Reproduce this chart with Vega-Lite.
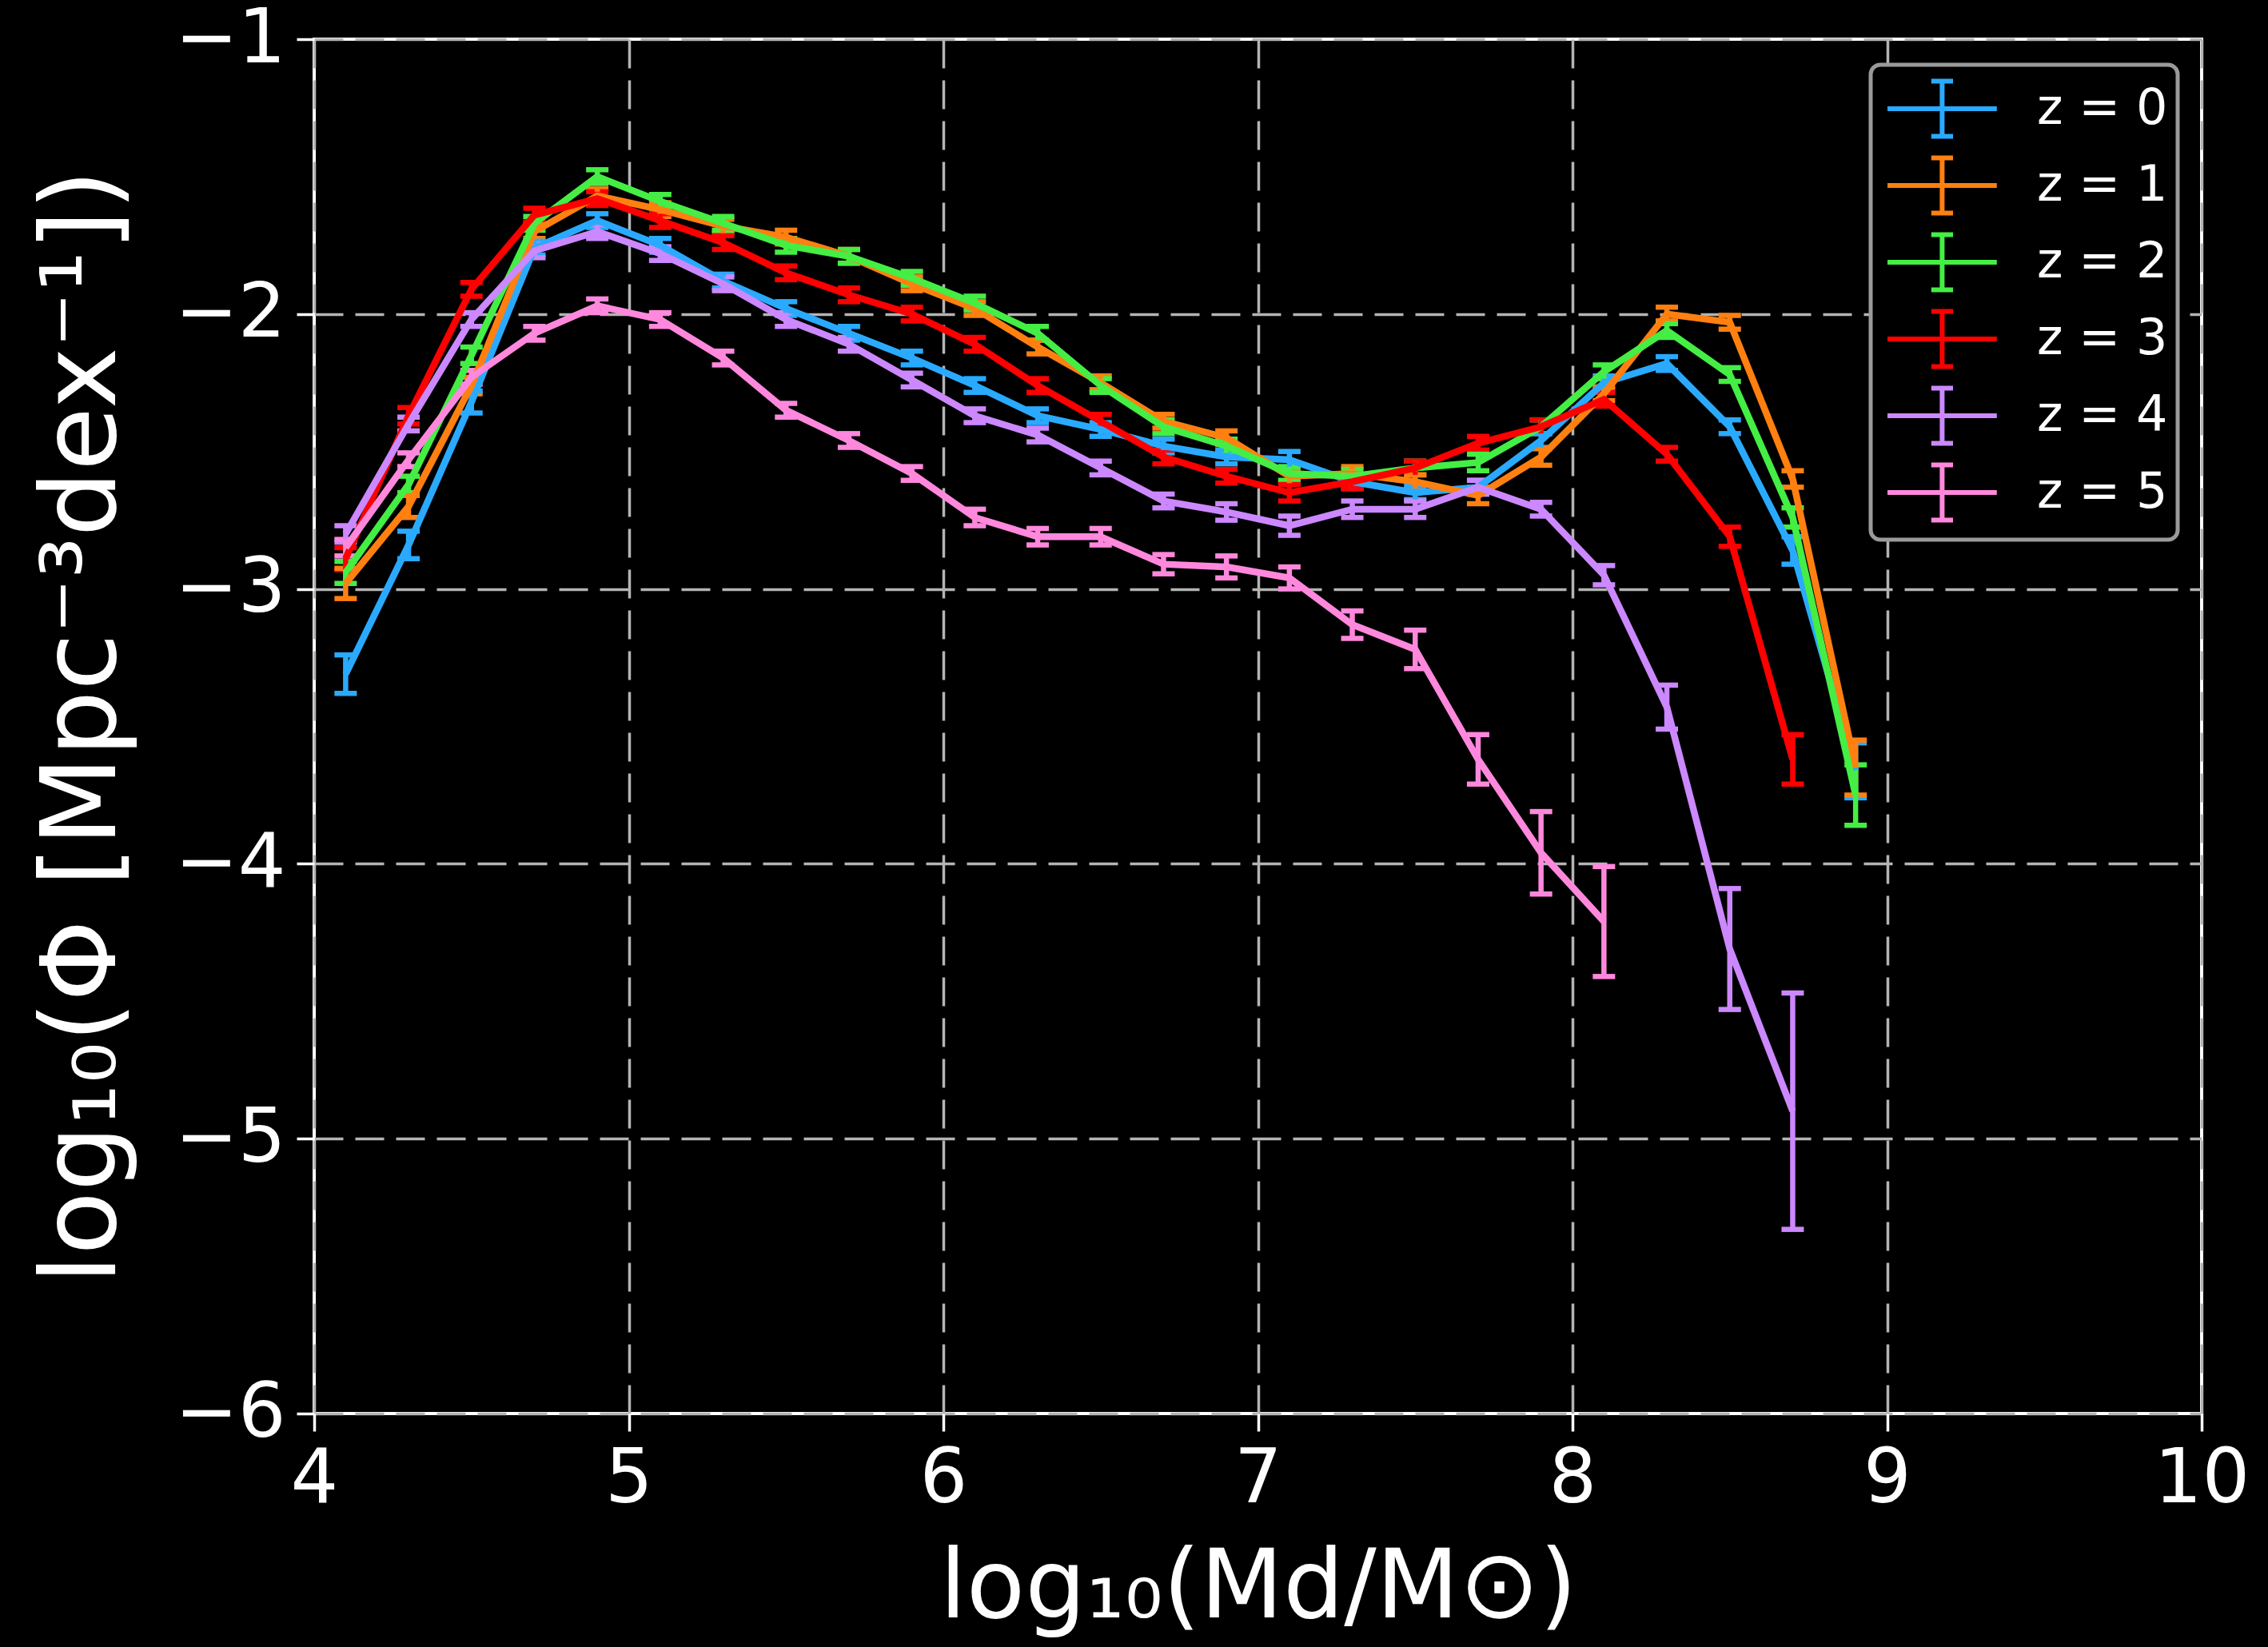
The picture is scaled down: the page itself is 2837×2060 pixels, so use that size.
{
  "$schema": "https://vega.github.io/schema/vega-lite/v6.json",
  "width": 2361,
  "height": 1719,
  "autosize": {"type": "none"},
  "padding": {"left": 393, "top": 49, "right": 83, "bottom": 292},
  "background": "black",
  "config": {
    "font": "DejaVu Sans",
    "view": {"stroke": "white", "strokeWidth": 4, "fill": "black"},
    "axis": {
      "labelFont": "DejaVu Sans",
      "titleFont": "DejaVu Sans",
      "labelColor": "white",
      "titleColor": "white",
      "labelFontSize": 94,
      "titleFontWeight": "normal",
      "tickColor": "white",
      "tickSize": 22,
      "tickWidth": 3.5,
      "domain": false,
      "grid": true,
      "gridColor": "#b4b4b4",
      "gridDash": [36, 15],
      "gridWidth": 3.5,
      "labelFlush": false,
      "labelOverlap": false
    },
    "legend": {
      "orient": "none",
      "legendX": 1947,
      "legendY": 32,
      "strokeColor": "#9a9a9a",
      "fillColor": "black",
      "cornerRadius": 12,
      "strokeWidth": 5,
      "padding": 12,
      "symbolType": "M-0.85,0H2.57M0.86,-0.86V0.86M0.52,-0.86H1.2M0.52,0.86H1.2",
      "symbolSize": 6400,
      "symbolStrokeWidth": 6,
      "symbolOpacity": 1,
      "symbolFillColor": "transparent",
      "labelFontSize": 62,
      "labelFont": "DejaVu Sans",
      "labelColor": "white",
      "labelOffset": 110,
      "rowPadding": 2,
      "labelLimit": 400
    }
  },
  "data": {
    "values": [
      {"z": "z = 0", "x": 4.1, "y": -3.31, "e": 0.07},
      {"z": "z = 0", "x": 4.3, "y": -2.84, "e": 0.05},
      {"z": "z = 0", "x": 4.5, "y": -2.32, "e": 0.04},
      {"z": "z = 0", "x": 4.7, "y": -1.76, "e": 0.025},
      {"z": "z = 0", "x": 4.9, "y": -1.66, "e": 0.025},
      {"z": "z = 0", "x": 5.1, "y": -1.75, "e": 0.025},
      {"z": "z = 0", "x": 5.3, "y": -1.88, "e": 0.025},
      {"z": "z = 0", "x": 5.5, "y": -1.98, "e": 0.025},
      {"z": "z = 0", "x": 5.7, "y": -2.07, "e": 0.025},
      {"z": "z = 0", "x": 5.9, "y": -2.16, "e": 0.025},
      {"z": "z = 0", "x": 6.1, "y": -2.26, "e": 0.025},
      {"z": "z = 0", "x": 6.3, "y": -2.37, "e": 0.025},
      {"z": "z = 0", "x": 6.5, "y": -2.42, "e": 0.025},
      {"z": "z = 0", "x": 6.7, "y": -2.48, "e": 0.025},
      {"z": "z = 0", "x": 6.9, "y": -2.52, "e": 0.025},
      {"z": "z = 0", "x": 7.1, "y": -2.53, "e": 0.03},
      {"z": "z = 0", "x": 7.3, "y": -2.61, "e": 0.025},
      {"z": "z = 0", "x": 7.5, "y": -2.65, "e": 0.025},
      {"z": "z = 0", "x": 7.7, "y": -2.63, "e": 0.025},
      {"z": "z = 0", "x": 7.9, "y": -2.46, "e": 0.025},
      {"z": "z = 0", "x": 8.1, "y": -2.25, "e": 0.025},
      {"z": "z = 0", "x": 8.3, "y": -2.18, "e": 0.025},
      {"z": "z = 0", "x": 8.5, "y": -2.41, "e": 0.025},
      {"z": "z = 0", "x": 8.7, "y": -2.86, "e": 0.05},
      {"z": "z = 0", "x": 8.9, "y": -3.66, "e": 0.1},
      {"z": "z = 1", "x": 4.1, "y": -2.98, "e": 0.055},
      {"z": "z = 1", "x": 4.3, "y": -2.70, "e": 0.04},
      {"z": "z = 1", "x": 4.5, "y": -2.26, "e": 0.03},
      {"z": "z = 1", "x": 4.7, "y": -1.70, "e": 0.025},
      {"z": "z = 1", "x": 4.9, "y": -1.57, "e": 0.025},
      {"z": "z = 1", "x": 5.1, "y": -1.62, "e": 0.025},
      {"z": "z = 1", "x": 5.3, "y": -1.68, "e": 0.025},
      {"z": "z = 1", "x": 5.5, "y": -1.72, "e": 0.025},
      {"z": "z = 1", "x": 5.7, "y": -1.79, "e": 0.025},
      {"z": "z = 1", "x": 5.9, "y": -1.89, "e": 0.025},
      {"z": "z = 1", "x": 6.1, "y": -1.98, "e": 0.025},
      {"z": "z = 1", "x": 6.3, "y": -2.12, "e": 0.025},
      {"z": "z = 1", "x": 6.5, "y": -2.25, "e": 0.025},
      {"z": "z = 1", "x": 6.7, "y": -2.39, "e": 0.025},
      {"z": "z = 1", "x": 6.9, "y": -2.45, "e": 0.025},
      {"z": "z = 1", "x": 7.1, "y": -2.59, "e": 0.025},
      {"z": "z = 1", "x": 7.3, "y": -2.58, "e": 0.025},
      {"z": "z = 1", "x": 7.5, "y": -2.61, "e": 0.025},
      {"z": "z = 1", "x": 7.7, "y": -2.66, "e": 0.03},
      {"z": "z = 1", "x": 7.9, "y": -2.52, "e": 0.03},
      {"z": "z = 1", "x": 8.1, "y": -2.29, "e": 0.025},
      {"z": "z = 1", "x": 8.3, "y": -2.00, "e": 0.025},
      {"z": "z = 1", "x": 8.5, "y": -2.03, "e": 0.025},
      {"z": "z = 1", "x": 8.7, "y": -2.60, "e": 0.03},
      {"z": "z = 1", "x": 8.9, "y": -3.65, "e": 0.1},
      {"z": "z = 2", "x": 4.1, "y": -2.94, "e": 0.04},
      {"z": "z = 2", "x": 4.3, "y": -2.62, "e": 0.03},
      {"z": "z = 2", "x": 4.5, "y": -2.15, "e": 0.03},
      {"z": "z = 2", "x": 4.7, "y": -1.67, "e": 0.025},
      {"z": "z = 2", "x": 4.9, "y": -1.50, "e": 0.025},
      {"z": "z = 2", "x": 5.1, "y": -1.59, "e": 0.025},
      {"z": "z = 2", "x": 5.3, "y": -1.67, "e": 0.025},
      {"z": "z = 2", "x": 5.5, "y": -1.75, "e": 0.025},
      {"z": "z = 2", "x": 5.7, "y": -1.79, "e": 0.025},
      {"z": "z = 2", "x": 5.9, "y": -1.87, "e": 0.025},
      {"z": "z = 2", "x": 6.1, "y": -1.96, "e": 0.025},
      {"z": "z = 2", "x": 6.3, "y": -2.07, "e": 0.025},
      {"z": "z = 2", "x": 6.5, "y": -2.26, "e": 0.025},
      {"z": "z = 2", "x": 6.7, "y": -2.41, "e": 0.025},
      {"z": "z = 2", "x": 6.9, "y": -2.48, "e": 0.025},
      {"z": "z = 2", "x": 7.1, "y": -2.58, "e": 0.025},
      {"z": "z = 2", "x": 7.3, "y": -2.59, "e": 0.025},
      {"z": "z = 2", "x": 7.5, "y": -2.56, "e": 0.025},
      {"z": "z = 2", "x": 7.7, "y": -2.54, "e": 0.03},
      {"z": "z = 2", "x": 7.9, "y": -2.41, "e": 0.025},
      {"z": "z = 2", "x": 8.1, "y": -2.21, "e": 0.025},
      {"z": "z = 2", "x": 8.3, "y": -2.06, "e": 0.025},
      {"z": "z = 2", "x": 8.5, "y": -2.22, "e": 0.025},
      {"z": "z = 2", "x": 8.7, "y": -2.74, "e": 0.035},
      {"z": "z = 2", "x": 8.9, "y": -3.75, "e": 0.11},
      {"z": "z = 3", "x": 4.1, "y": -2.89, "e": 0.04},
      {"z": "z = 3", "x": 4.3, "y": -2.37, "e": 0.03},
      {"z": "z = 3", "x": 4.5, "y": -1.91, "e": 0.025},
      {"z": "z = 3", "x": 4.7, "y": -1.64, "e": 0.025},
      {"z": "z = 3", "x": 4.9, "y": -1.58, "e": 0.025},
      {"z": "z = 3", "x": 5.1, "y": -1.66, "e": 0.025},
      {"z": "z = 3", "x": 5.3, "y": -1.74, "e": 0.025},
      {"z": "z = 3", "x": 5.5, "y": -1.85, "e": 0.025},
      {"z": "z = 3", "x": 5.7, "y": -1.93, "e": 0.025},
      {"z": "z = 3", "x": 5.9, "y": -2.00, "e": 0.025},
      {"z": "z = 3", "x": 6.1, "y": -2.11, "e": 0.025},
      {"z": "z = 3", "x": 6.3, "y": -2.26, "e": 0.025},
      {"z": "z = 3", "x": 6.5, "y": -2.39, "e": 0.025},
      {"z": "z = 3", "x": 6.7, "y": -2.52, "e": 0.025},
      {"z": "z = 3", "x": 6.9, "y": -2.59, "e": 0.025},
      {"z": "z = 3", "x": 7.1, "y": -2.65, "e": 0.03},
      {"z": "z = 3", "x": 7.3, "y": -2.61, "e": 0.025},
      {"z": "z = 3", "x": 7.5, "y": -2.56, "e": 0.025},
      {"z": "z = 3", "x": 7.7, "y": -2.47, "e": 0.025},
      {"z": "z = 3", "x": 7.9, "y": -2.41, "e": 0.025},
      {"z": "z = 3", "x": 8.1, "y": -2.31, "e": 0.025},
      {"z": "z = 3", "x": 8.3, "y": -2.51, "e": 0.025},
      {"z": "z = 3", "x": 8.5, "y": -2.81, "e": 0.035},
      {"z": "z = 3", "x": 8.7, "y": -3.62, "e": 0.09},
      {"z": "z = 4", "x": 4.1, "y": -2.80, "e": 0.03},
      {"z": "z = 4", "x": 4.3, "y": -2.40, "e": 0.025},
      {"z": "z = 4", "x": 4.5, "y": -2.02, "e": 0.025},
      {"z": "z = 4", "x": 4.7, "y": -1.77, "e": 0.025},
      {"z": "z = 4", "x": 4.9, "y": -1.70, "e": 0.025},
      {"z": "z = 4", "x": 5.1, "y": -1.78, "e": 0.025},
      {"z": "z = 4", "x": 5.3, "y": -1.89, "e": 0.025},
      {"z": "z = 4", "x": 5.5, "y": -2.02, "e": 0.025},
      {"z": "z = 4", "x": 5.7, "y": -2.11, "e": 0.025},
      {"z": "z = 4", "x": 5.9, "y": -2.24, "e": 0.025},
      {"z": "z = 4", "x": 6.1, "y": -2.37, "e": 0.025},
      {"z": "z = 4", "x": 6.3, "y": -2.44, "e": 0.025},
      {"z": "z = 4", "x": 6.5, "y": -2.56, "e": 0.025},
      {"z": "z = 4", "x": 6.7, "y": -2.68, "e": 0.025},
      {"z": "z = 4", "x": 6.9, "y": -2.72, "e": 0.03},
      {"z": "z = 4", "x": 7.1, "y": -2.77, "e": 0.035},
      {"z": "z = 4", "x": 7.3, "y": -2.71, "e": 0.03},
      {"z": "z = 4", "x": 7.5, "y": -2.71, "e": 0.03},
      {"z": "z = 4", "x": 7.7, "y": -2.63, "e": 0.025},
      {"z": "z = 4", "x": 7.9, "y": -2.71, "e": 0.025},
      {"z": "z = 4", "x": 8.1, "y": -2.95, "e": 0.035},
      {"z": "z = 4", "x": 8.3, "y": -3.43, "e": 0.08},
      {"z": "z = 4", "x": 8.5, "y": -4.31, "e": 0.22},
      {"z": "z = 4", "x": 8.7, "y": -4.90, "e": 0.43},
      {"z": "z = 5", "x": 4.1, "y": -2.85, "e": 0.03},
      {"z": "z = 5", "x": 4.3, "y": -2.53, "e": 0.025},
      {"z": "z = 5", "x": 4.5, "y": -2.23, "e": 0.025},
      {"z": "z = 5", "x": 4.7, "y": -2.07, "e": 0.025},
      {"z": "z = 5", "x": 4.9, "y": -1.97, "e": 0.025},
      {"z": "z = 5", "x": 5.1, "y": -2.02, "e": 0.025},
      {"z": "z = 5", "x": 5.3, "y": -2.16, "e": 0.025},
      {"z": "z = 5", "x": 5.5, "y": -2.35, "e": 0.025},
      {"z": "z = 5", "x": 5.7, "y": -2.46, "e": 0.025},
      {"z": "z = 5", "x": 5.9, "y": -2.58, "e": 0.025},
      {"z": "z = 5", "x": 6.1, "y": -2.74, "e": 0.03},
      {"z": "z = 5", "x": 6.3, "y": -2.81, "e": 0.03},
      {"z": "z = 5", "x": 6.5, "y": -2.81, "e": 0.03},
      {"z": "z = 5", "x": 6.7, "y": -2.91, "e": 0.035},
      {"z": "z = 5", "x": 6.9, "y": -2.92, "e": 0.04},
      {"z": "z = 5", "x": 7.1, "y": -2.96, "e": 0.04},
      {"z": "z = 5", "x": 7.3, "y": -3.13, "e": 0.05},
      {"z": "z = 5", "x": 7.5, "y": -3.22, "e": 0.07},
      {"z": "z = 5", "x": 7.7, "y": -3.62, "e": 0.09},
      {"z": "z = 5", "x": 7.9, "y": -3.96, "e": 0.15},
      {"z": "z = 5", "x": 8.1, "y": -4.21, "e": 0.2}
    ]
  },
  "encoding": {
    "x": {
      "field": "x",
      "type": "quantitative",
      "scale": {"domain": [4, 10], "nice": false, "zero": false},
      "axis": {
        "values": [4, 5, 6, 7, 8, 9, 10],
        "format": "d",
        "labelPadding": 14,
        "title": "log₁₀(Md/M⊙)",
        "titleFontSize": 120,
        "titlePadding": 30
      }
    },
    "y": {
      "field": "y",
      "type": "quantitative",
      "scale": {"domain": [-6, -1], "nice": false, "zero": false},
      "axis": {
        "values": [-6, -5, -4, -3, -2, -1],
        "format": "d",
        "labelPadding": 14,
        "title": "log₁₀(Φ [Mpc⁻³dex⁻¹])",
        "titleFontSize": 130,
        "titlePadding": 48
      }
    },
    "color": {
      "field": "z",
      "type": "nominal",
      "scale": {
        "domain": ["z = 0", "z = 1", "z = 2", "z = 3", "z = 4", "z = 5"],
        "range": ["#2aaaff", "#ff8010", "#44ee44", "#ff0000", "#cc88ff", "#ff88dd"]
      },
      "legend": {"title": null}
    }
  },
  "layer": [
    {
      "mark": {
        "type": "errorbar",
        "thickness": 6.5,
        "rule": {"opacity": 1},
        "ticks": {"size": 28, "thickness": 6.5, "opacity": 1}
      },
      "encoding": {"yError": {"field": "e"}}
    },
    {
      "mark": {"type": "line", "strokeWidth": 8.5, "opacity": 1},
      "encoding": {}
    }
  ]
}
